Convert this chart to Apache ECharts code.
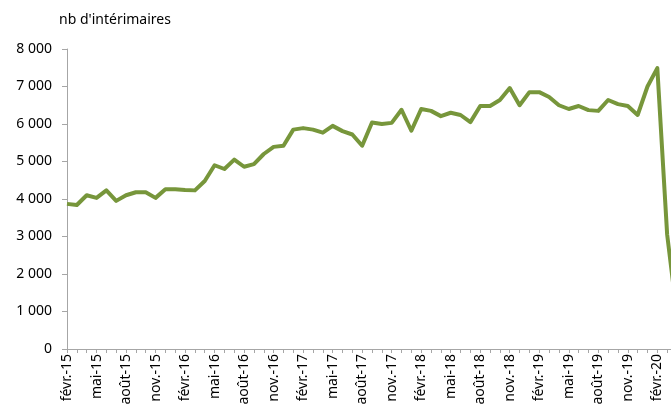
<!DOCTYPE html>
<html>
<head>
<meta charset="utf-8">
<script src="https://cdn.jsdelivr.net/npm/echarts@6/dist/echarts.min.js"></script>
<style>
  html, body { margin: 0; padding: 0; background: #fff; overflow: hidden; }
  #chart { width: 677px; height: 416px; }
</style>
</head>
<body>
<div id="chart"></div>
<script>
const months = ['janv.', 'févr.', 'mars', 'avr.', 'mai', 'juin', 'juil.', 'août', 'sept.', 'oct.', 'nov.', 'déc.']

// févr.-15 .. avr.-20
const categories = []
for (let y = 15; y <= 20; y++) {
	for (let m = 0; m < 12; m++) {
		if (y === 15 && m < 1) continue
		if (y === 20 && m > 3) continue
		categories.push(months[m] + '-' + y)
	}
}

const interimaires = [
	3870, 3840, 4100, 4030, 4230, 3950, 4100, 4180, 4180, 4030, 4260,
	4260, 4240, 4230, 4480, 4900, 4800, 5050, 4860, 4930, 5200, 5390, 5420,
	5850, 5890, 5850, 5770, 5950, 5810, 5720, 5420, 6040, 6000, 6030, 6380,
	5820, 6400, 6350, 6210, 6300, 6240, 6050, 6480, 6480, 6640, 6960, 6500,
	6850, 6850, 6720, 6500, 6400, 6480, 6370, 6350, 6640, 6530, 6480, 6240,
	7000, 7490, 3050, 900
]

const yTicks = { min: 0, max: 8000, interval: 1000 }

const chart = echarts.init(document.getElementById('chart'))
chart.setOption({
	animation: false,
	grid: { left: 67, right: 0, top: 49, bottom: 67 },
	xAxis: {
		type: 'category',
		data: categories,
		boundaryGap: false,
		axisLine: { lineStyle: { color: '#a6a6a6', width: 1 } },
		axisTick: { interval: 0, length: 4, lineStyle: { color: '#a6a6a6' } },
		axisLabel: {
			interval: 2,
			rotate: 90,
			margin: 5,
			color: '#000',
			fontFamily: 'Noto Sans',
			fontSize: 14
		},
		splitLine: { show: false }
	},
	yAxis: {
		type: 'value',
		min: yTicks.min,
		max: yTicks.max,
		interval: yTicks.interval,
		name: "nb d'intérimaires",
		nameLocation: 'end',
		nameGap: 22,
		nameTextStyle: { color: '#000', fontFamily: 'Noto Sans', fontSize: 14, align: 'left', padding: [0, 0, 0, -8] },
		axisLine: { show: true, lineStyle: { color: '#a6a6a6', width: 1 } },
		axisTick: { show: true, length: 5, lineStyle: { color: '#a6a6a6' } },
		axisLabel: {
			color: '#000',
			fontFamily: 'Noto Sans',
			fontSize: 14,
			margin: 15,
			formatter: v => v >= 1000 ? Math.floor(v / 1000) + ' ' + String(v % 1000).padStart(3, '0') : String(v)
		},
		splitLine: { show: false }
	},
	series: [{
		type: 'line',
		data: interimaires,
		showSymbol: false,
		lineStyle: { color: '#77963b', width: 4, join: 'round' },
		itemStyle: { color: '#77963b' }
	}]
})
</script>
</body>
</html>
